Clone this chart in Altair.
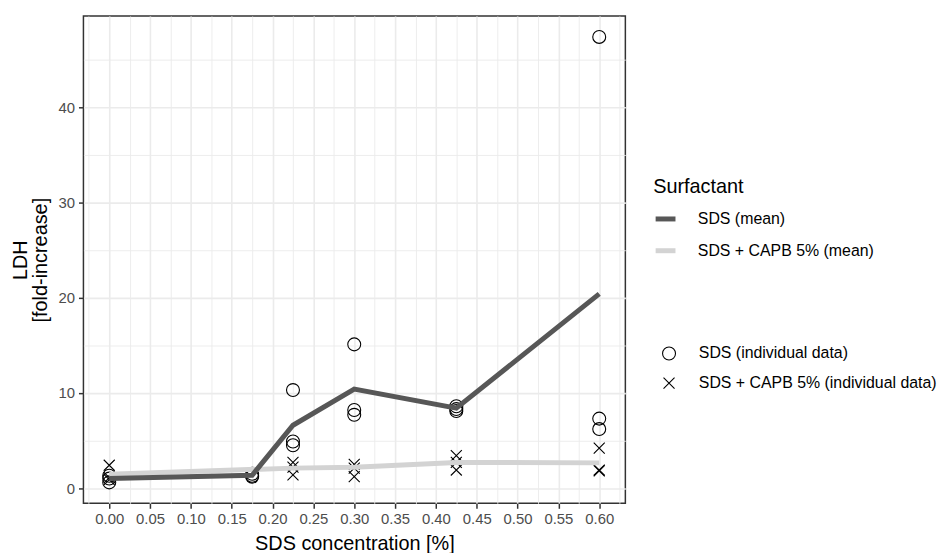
import altair as alt
import pandas as pd

# ---- data ----
sds_conc = [0.0, 0.175, 0.225, 0.3, 0.425, 0.6]
sds_mean = [1.0, 1.35, 6.6, 10.4, 8.4, 20.4]

capb_conc = [0.0, 0.225, 0.3, 0.425, 0.6]
capb_mean = [1.45, 2.1, 2.2, 2.7, 2.65]

sds_ind_x = [0.0, 0.0, 0.0, 0.175, 0.175, 0.175, 0.225, 0.225, 0.225,
             0.3, 0.3, 0.3, 0.425, 0.425, 0.425, 0.6, 0.6, 0.6]
sds_ind_y = [1.3, 1.0, 0.6, 1.2, 1.3, 1.5, 10.3, 4.9, 4.5,
             15.1, 8.2, 7.7, 8.6, 8.3, 8.1, 47.4, 7.3, 6.2]

capb_ind_x = [0.0, 0.0, 0.0, 0.225, 0.225, 0.225, 0.3, 0.3, 0.3,
              0.425, 0.425, 0.425, 0.6, 0.6, 0.6]
capb_ind_y = [2.4, 1.1, 0.9, 2.7, 2.2, 1.4, 2.5, 2.1, 1.2,
              3.4, 2.7, 1.9, 4.2, 1.9, 1.8]

line_names = ["SDS (mean)", "SDS + CAPB 5% (mean)"]
line_colors = ["#575757", "#D3D3D3"]
pt_names = ["SDS (individual data)", "SDS + CAPB 5% (individual data)"]

x_ticks = [-0.025, 0.0, 0.025, 0.05, 0.075, 0.1, 0.125, 0.15, 0.175, 0.2, 0.225,
           0.25, 0.275, 0.3, 0.325, 0.35, 0.375, 0.4, 0.425, 0.45, 0.475, 0.5,
           0.525, 0.55, 0.575, 0.6, 0.625]
y_ticks = [0, 5, 10, 15, 20, 25, 30, 35, 40, 45]

# ---- tables ----
df_sds = pd.DataFrame({"conc": sds_conc, "ldh": sds_mean, "series": line_names[0]})
df_capb = pd.DataFrame({"conc": capb_conc, "ldh": capb_mean, "series": line_names[1]})
df_pts = pd.concat([
    pd.DataFrame({"conc": sds_ind_x, "ldh": sds_ind_y, "kind": pt_names[0]}),
    pd.DataFrame({"conc": capb_ind_x, "ldh": capb_ind_y, "kind": pt_names[1]}),
])

FONT = "Liberation Sans"
x_major = "abs(round(datum.value*40)) % 2 == 0"

x_enc = alt.X(
    "conc:Q",
    title="SDS concentration [%]",
    scale=alt.Scale(domain=[-0.0316, 0.632], nice=False, zero=False),
    axis=alt.Axis(
        values=x_ticks,
        grid=True,
        gridColor="#EBEBEB",
        gridWidth={"condition": {"test": x_major, "value": 1.6}, "value": 0.9},
        tickOpacity={"condition": {"test": x_major + " && datum.value >= 0", "value": 1}, "value": 0},
        labelExpr="abs(round(datum.value*40)) % 2 == 0 && datum.value >= 0 ? format(datum.value, '.2f') : ''",
        labelOverlap=False,
        labelFlush=False,
        domain=False,
        tickColor="#333333",
        tickWidth=1.5,
        tickSize=5,
        labelPadding=3,
        labelColor="#4D4D4D",
        labelFontSize=15,
        labelFont=FONT,
        titleFont=FONT,
        titleFontSize=20,
        titleFontWeight="normal",
        titleColor="#000000",
        titlePadding=8,
    ),
)

y_major = "datum.value % 10 == 0"
y_enc = alt.Y(
    "ldh:Q",
    title=["LDH", "[fold-increase]"],
    scale=alt.Scale(domain=[-1.6, 49.6], nice=False, zero=False),
    axis=alt.Axis(
        values=y_ticks,
        grid=True,
        gridColor="#EBEBEB",
        gridWidth={"condition": {"test": y_major, "value": 1.6}, "value": 0.9},
        tickOpacity={"condition": {"test": y_major, "value": 1}, "value": 0},
        labelExpr="datum.value % 10 == 0 ? datum.label : ''",
        labelOverlap=False,
        domain=False,
        tickColor="#333333",
        tickWidth=1.5,
        tickSize=5,
        labelPadding=4,
        labelColor="#4D4D4D",
        labelFontSize=15,
        labelFont=FONT,
        titleFont=FONT,
        titleFontSize=20,
        titleLineHeight=20,
        titleFontWeight="normal",
        titleColor="#000000",
        titlePadding=8,
    ),
)

color_enc = alt.Color(
    "series:N",
    scale=alt.Scale(domain=line_names, range=line_colors),
    legend=alt.Legend(
        title="Surfactant",
        orient="none",
        legendX=574,
        legendY=162,
        symbolType="stroke",
        symbolStrokeWidth=5,
        symbolSize=400,
        labelOffset=20,
        rowPadding=9,
        titlePadding=10,
        titleFontSize=20,
        titleFontWeight="normal",
        titleFont=FONT,
        titleColor="#000000",
        labelFont=FONT,
        labelFontSize=16,
        labelColor="#000000",
        labelLimit=400,
    ),
)

cross_path = "M-0.85,-0.85L0.85,0.85M-0.85,0.85L0.85,-0.85"
shape_enc = alt.Shape(
    "kind:N",
    title=None,
    scale=alt.Scale(domain=pt_names, range=["circle", cross_path]),
    legend=alt.Legend(
        orient="none",
        legendX=582,
        legendY=332,
        symbolSize=170,
        symbolStrokeColor="#000000",
        symbolStrokeWidth=1.1,
        symbolFillColor="transparent",
        labelOffset=22,
        rowPadding=13,
        labelFont=FONT,
        labelFontSize=16,
        labelColor="#000000",
        labelLimit=400,
    ),
)

points = alt.Chart(df_pts).mark_point(
    filled=False, color="#000000", strokeWidth=1.1, size=170, opacity=1
).encode(x=x_enc, y=y_enc, shape=shape_enc)

line_capb = alt.Chart(df_capb).mark_line(strokeWidth=5).encode(
    x=x_enc, y=y_enc, color=color_enc
)
line_sds = alt.Chart(df_sds).mark_line(strokeWidth=5).encode(
    x=x_enc, y=y_enc, color=color_enc
)

chart = (
    alt.layer(points, line_capb, line_sds)
    .properties(
        width=546,
        height=491,
        autosize=alt.AutoSizeParams(type="none"),
        padding={"left": 76, "top": 6, "right": 316, "bottom": 48},
        background="#FFFFFF",
    )
    .configure_view(stroke="#333333", strokeWidth=1.5)
)

chart.save("out.html", embed_options={"renderer": "svg", "actions": False})
